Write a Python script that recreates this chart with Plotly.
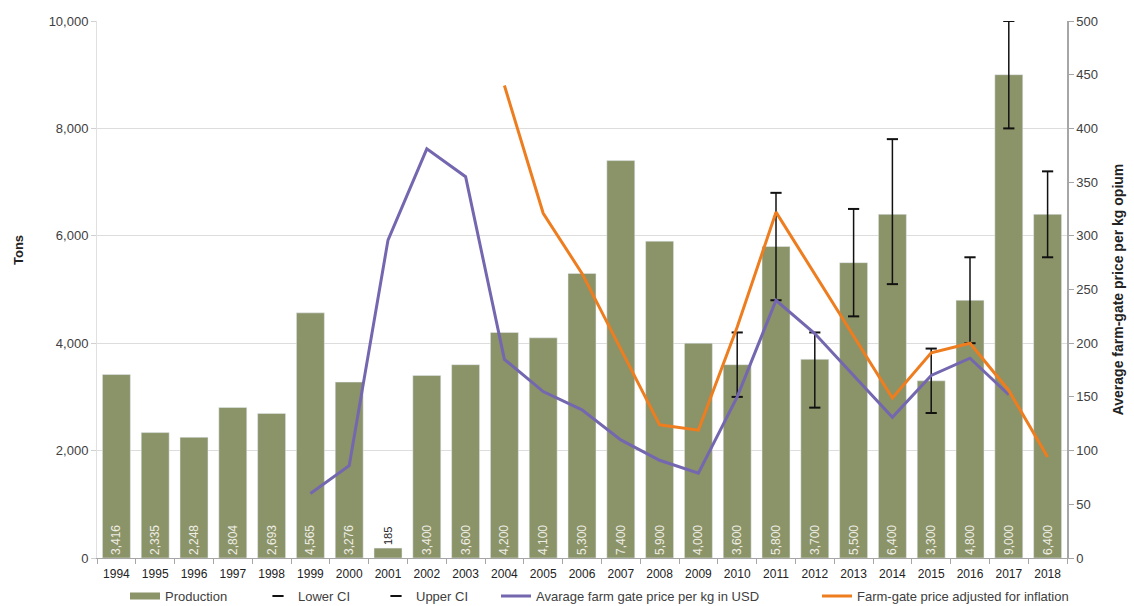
import plotly.graph_objects as go

years = [str(y) for y in range(1994, 2019)]
production = [3416, 2335, 2248, 2804, 2693, 4565, 3276, 185, 3400, 3600, 4200, 4100,
              5300, 7400, 5900, 4000, 3600, 5800, 3700, 5500, 6400, 3300, 4800, 9000, 6400]
prod_labels = ["3,416", "2,335", "2,248", "2,804", "2,693", "4,565", "3,276", "185", "3,400",
               "3,600", "4,200", "4,100", "5,300", "7,400", "5,900", "4,000", "3,600", "5,800",
               "3,700", "5,500", "6,400", "3,300", "4,800", "9,000", "6,400"]

ci_years = [str(y) for y in range(2010, 2019)]
lower_ci = [3000, 4800, 2800, 4500, 5100, 2700, 4000, 8000, 5600]
upper_ci = [4200, 6800, 4200, 6500, 7800, 3900, 5600, 10000, 7200]

usd_years = [str(y) for y in range(1999, 2018)]
usd_price = [60, 86, 296, 381, 355, 185, 155, 138, 110, 91, 79, 150, 240, 209, 170, 131, 170, 186, 152]

infl_years = [str(y) for y in range(2004, 2019)]
infl_price = [440, 321, 265, 195, 124, 119, 215, 322, 264, 207, 149, 191, 200, 156, 94]

BAR = "#8B9368"
PURPLE = "#7467B0"
ORANGE = "#EE7D1F"
FONT = "Liberation Sans, Arial, sans-serif"

text_pos = ["outside" if v < 1000 else "inside" for v in production]

fig = go.Figure()
fig.add_trace(go.Bar(
    x=years, y=production, name="Production", marker_color=BAR, showlegend=False,
    text=prod_labels, textposition=text_pos, textangle=-90,
    insidetextanchor="start", cliponaxis=False,
    insidetextfont=dict(color="#EEEEE4", size=12, family=FONT),
    outsidetextfont=dict(color="#222222", size=11, family=FONT),
))
# legend proxy for the bars (wide flat swatch, as in the reference)
fig.add_trace(go.Scatter(
    x=[years[0]], y=[None], name="Production", mode="lines",
    line=dict(color=BAR, width=7), legend="legend", hoverinfo="skip",
))
fig.add_trace(go.Scatter(
    x=ci_years, y=lower_ci, name="Lower CI", mode="markers", legend="legend2",
    marker=dict(symbol="line-ew", size=8, line=dict(color="#111111", width=2)),
))
fig.add_trace(go.Scatter(
    x=ci_years, y=upper_ci, name="Upper CI", mode="markers", legend="legend3",
    marker=dict(symbol="line-ew", size=8, line=dict(color="#111111", width=2)),
    error_y=dict(type="data", symmetric=False, array=[0] * len(upper_ci),
                 arrayminus=[u - l for u, l in zip(upper_ci, lower_ci)],
                 width=0, thickness=1.5, color="#111111"),
))
fig.add_trace(go.Scatter(
    x=usd_years, y=usd_price, name="Avarage farm gate price per kg in USD",
    mode="lines", line=dict(color=PURPLE, width=3), yaxis="y2", legend="legend4",
))
fig.add_trace(go.Scatter(
    x=infl_years, y=infl_price, name="Farm-gate price adjusted for inflation",
    mode="lines", line=dict(color=ORANGE, width=3), yaxis="y2", legend="legend5",
))

def leg(xp):
    return dict(orientation="h", x=(xp - 97) / 970, xanchor="left", y=-0.071, yanchor="middle",
                font=dict(size=13, color="#404040"), itemwidth=30, bgcolor="rgba(0,0,0,0)")

fig.update_layout(
    width=1134, height=606,
    margin=dict(l=97, r=67, t=21, b=48, autoexpand=False),
    paper_bgcolor="white", plot_bgcolor="white",
    font=dict(family=FONT, size=12, color="#404040"),
    bargap=0.28,
    showlegend=True,
    legend=leg(125), legend2=leg(258), legend3=leg(376), legend4=leg(496), legend5=leg(817),
    xaxis=dict(type="category", categoryorder="array", categoryarray=years,
               range=[-0.5, len(years) - 0.5], automargin=False,
               showline=True, linecolor="#A6A6A6", linewidth=1,
               ticks="outside", tickson="boundaries", ticklen=5, tickcolor="#A6A6A6",
               ticklabelstandoff=5,
               tickfont=dict(size=12, color="#222222"), showgrid=False),
    yaxis=dict(range=[0, 10000], dtick=2000, tickformat=",", showgrid=True,
               automargin=False,
               gridcolor="#DDDDDD", gridwidth=1, showline=True, linecolor="#E0E0E0",
               ticks="outside", ticklen=5, tickcolor="#D0D0D0",
               tickfont=dict(size=13, color="#404040"), zeroline=False),
    yaxis2=dict(range=[0, 500], dtick=50, overlaying="y", side="right", showgrid=False,
                automargin=False,
                showline=True, linecolor="#A6A6A6", linewidth=1.5,
                ticks="outside", ticklen=5, tickcolor="#A6A6A6",
                tickfont=dict(size=13, color="#404040"), zeroline=False,
                title=dict(text="<b>Average farm-gate price per kg opium</b>",
                           font=dict(size=14, color="#222222"), standoff=16)),
    annotations=[dict(text="<b>Tons</b>", x=18, xref="paper", y=(606 - 250 - 48) / 537,
                      yref="paper", xanchor="center", yanchor="middle", textangle=-90,
                      showarrow=False, font=dict(size=13, color="#222222"))],
)
# put the annotation x in pixels relative to paper: convert
fig.layout.annotations[0].x = (18 - 97) / 970

fig.write_html("out.html")
